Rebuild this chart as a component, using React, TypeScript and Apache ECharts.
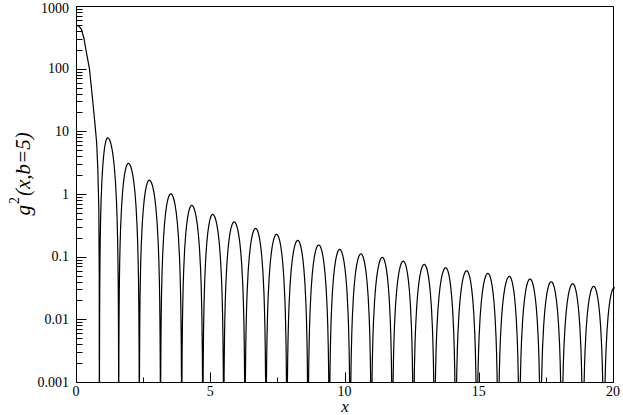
import React, { useEffect, useRef } from 'react';
import * as echarts from 'echarts';

// Steep head of the curve (x from 0 to the first zero)
const headX = [0, 0.1, 0.2, 0.3, 0.37, 0.5, 0.62, 0.7, 0.77, 0.81, 0.85, 0.866];
const headY = [497, 478, 430, 300, 200, 100, 31.6, 14, 6.5, 2.7, 0.6, 0.05];

// Zero crossings (x)
const zeroX = [0.872, 1.59, 2.358, 3.147, 3.937, 4.723, 5.501, 6.294, 7.076, 7.855, 8.641, 9.434,
  10.212, 10.998, 11.781, 12.566, 13.352, 14.141, 14.93, 15.72, 16.51, 17.3, 18.09, 18.88, 19.66, 20.44];
// Arch maxima (x and value)
const peakX = [1.18, 1.95, 2.73, 3.53, 4.31, 5.09, 5.89, 6.69, 7.47, 8.26, 9.04, 9.82, 10.61, 11.41,
  12.19, 12.97, 13.77, 14.55, 15.34, 16.14, 16.91, 17.7, 18.5, 19.28, 20.05];
const peakY = [7.9, 3.09, 1.67, 1.01, 0.66, 0.474, 0.36, 0.284, 0.228, 0.182, 0.154, 0.131, 0.111,
  0.0977, 0.0853, 0.0755, 0.0667, 0.0597, 0.0543, 0.0486, 0.0441, 0.0399, 0.0371, 0.0337, 0.032];
// Shape of one arch: fraction of the half-arch from the zero, and level relative to the arch peak
const archFrac = [0.01, 0.02, 0.04, 0.07, 0.1, 0.15, 0.2, 0.3, 0.4, 0.5, 0.6, 0.7, 0.8, 0.9];
const archLevel = [0.000247, 0.000987, 0.00395, 0.0121, 0.0245, 0.0545, 0.0955, 0.206, 0.345, 0.5, 0.655, 0.794, 0.905, 0.976];

const xTicks = [0, 5, 10, 15, 20];
const xMinorTicks = [2.5, 7.5, 12.5, 17.5];
const yTicks = [0.001, 0.01, 0.1, 1, 10, 100, 1000];
const yTickLabels = ['0.001', '0.01', '0.1', '1', '10', '100', '1000'];
const yMinorMult = [2, 3, 4, 5, 6, 7, 8, 9];
const xTitle = 'x';

const FONT = "'Liberation Serif', 'Times New Roman', Times, serif";
const ZERO = 1e-9;
const W = 623;
const H = 415;

function buildData(): number[][] {
  const pts: number[][] = [];
  headX.forEach((x, i) => pts.push([x, headY[i]]));
  pts.push([zeroX[0], ZERO]);
  for (let i = 0; i < peakX.length; i++) {
    const l = zeroX[i];
    const r = zeroX[i + 1];
    const px = peakX[i];
    const py = peakY[i];
    for (let j = 0; j < archFrac.length; j++) pts.push([l + archFrac[j] * (px - l), py * archLevel[j]]);
    pts.push([px, py]);
    for (let j = archFrac.length - 1; j >= 0; j--) pts.push([r - archFrac[j] * (r - px), py * archLevel[j]]);
    pts.push([r, ZERO]);
  }
  return pts;
}

export default function App() {
  const ref = useRef<HTMLDivElement>(null);
  useEffect(() => {
    if (!ref.current) return;
    document.body.style.margin = '0';
    const chart = echarts.init(ref.current, null, { renderer: 'svg', width: W, height: H });
    const lab = { color: '#000', fontFamily: FONT, fontSize: 14 };
    chart.setOption({
      animation: false,
      backgroundColor: '#fff',
      textStyle: { fontFamily: FONT },
      grid: { left: 76, right: 10, top: 6, bottom: 33, show: false, containLabel: false, outerBoundsMode: 'none' },
      xAxis: [{
        type: 'value', min: 0, max: 20, interval: 5, position: 'bottom',
        axisLine: { show: false },
        axisTick: { show: false },
        minorTick: { show: false },
        axisLabel: { ...lab, margin: 3, lineHeight: 12 },
        splitLine: { show: false },
      }],
      yAxis: [{
        type: 'log', logBase: 10, min: 0.001, max: 1000, position: 'left',
        axisLine: { show: false },
        axisTick: { show: false },
        minorTick: { show: false },
        axisLabel: {
          ...lab, margin: 7, customValues: yTicks,
          formatter: (v: number) => {
            const i = yTicks.findIndex((t) => Math.abs(Math.log10(t) - Math.log10(v)) < 1e-6);
            if (i < 0) return '';
            return i === yTicks.length - 1 ? `{t|${yTickLabels[i]}}` : yTickLabels[i];
          },
          rich: { t: { ...lab, padding: [4, 0, 0, 0] } },
        },
        splitLine: { show: false },
      }],
      series: [{
        type: 'line', xAxisIndex: 0, yAxisIndex: 0,
        data: buildData(), showSymbol: false, symbol: 'none', clip: true,
        lineStyle: { color: '#000', width: 1.2 },
      }],
    });

    // Frame, tick marks and axis titles placed through the chart's own scales
    const xPix = (v: number) => Number(chart.convertToPixel({ xAxisIndex: 0 }, v));
    const yPix = (v: number) => Number(chart.convertToPixel({ yAxisIndex: 0 }, v));
    const xL = Math.round(xPix(0)) + 0.5;
    const xR = Math.round(xPix(20)) + 0.5;
    const yB = Math.round(yPix(0.001)) + 0.5;
    const yT = Math.round(yPix(1000)) + 0.5;
    const els: any[] = [];
    const seg = (x1: number, y1: number, x2: number, y2: number) =>
      els.push({ type: 'line', silent: true, z: 50, shape: { x1, y1, x2, y2 }, style: { stroke: '#000', lineWidth: 1 } });
    seg(xL, yB, xR, yB);
    seg(xL, yT, xR, yT);
    seg(xL, yT, xL, yB);
    seg(xR, yT, xR, yB);
    const vTick = (v: number, len: number) => {
      const x = Math.round(xPix(v)) + 0.5;
      seg(x, yB, x, yB - len);
    };
    const hTick = (v: number, len: number) => {
      const y = Math.round(yPix(v)) + 0.5;
      seg(xL, y, xL + len, y);
    };
    xTicks.forEach((v) => vTick(v, 10));
    xMinorTicks.forEach((v) => vTick(v, 5));
    yTicks.forEach((v) => hTick(v, 10));
    for (let d = 0; d < yTicks.length - 1; d++) yMinorMult.forEach((m) => hTick(yTicks[d] * m, 6));

    chart.setOption({
      graphic: [
        ...els,
        {
          type: 'text', x: (xL + xR) / 2, y: yB + 23.5, z: 50,
          style: {
            text: xTitle, align: 'center', verticalAlign: 'middle',
            fontFamily: FONT, fontSize: 17, fontStyle: 'italic', fill: '#000',
          },
        },
        {
          type: 'text', x: 20, y: 174, rotation: Math.PI / 2, z: 50,
          style: {
            text: '{i|g}{s|2}{i|(x,b=5)}',
            align: 'center', verticalAlign: 'middle',
            rich: {
              i: { fontFamily: FONT, fontSize: 21, fontStyle: 'italic', fill: '#000', verticalAlign: 'bottom' },
              s: { fontFamily: FONT, fontSize: 14, fill: '#000', padding: [0, 1, 12, 1] },
            },
          },
        },
      ],
    });
    return () => chart.dispose();
  }, []);
  return <div ref={ref} style={{ position: 'fixed', left: 0, top: 0, width: W, height: H }} />;
}
